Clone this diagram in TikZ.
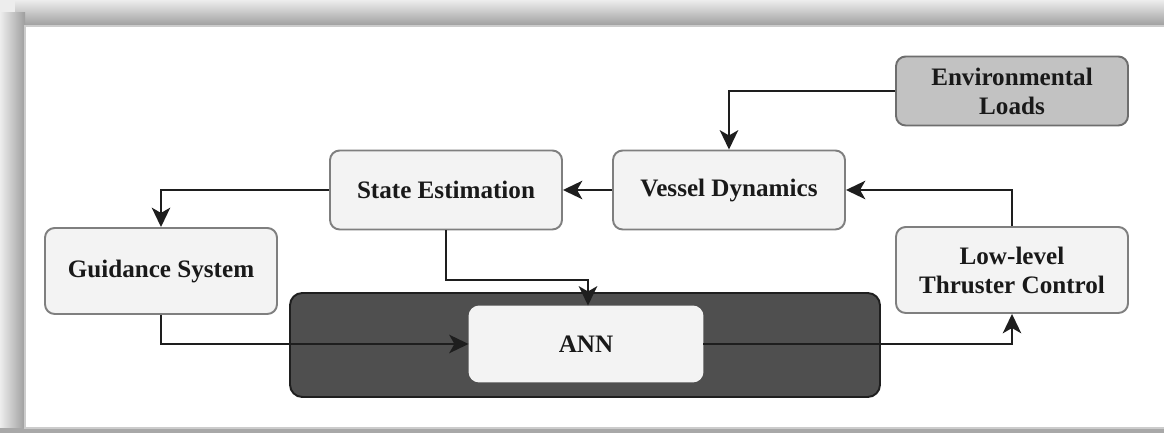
\documentclass[tikz,border=0pt]{standalone}
\usepackage{fontspec}
\setmainfont{Liberation Serif}
\usepackage{tikz}
\usetikzlibrary{arrows.meta}
\definecolor{boxfill}{HTML}{F3F3F3}
\definecolor{boxline}{HTML}{7F7F7F}
\definecolor{envfill}{HTML}{C2C2C2}
\definecolor{envline}{HTML}{6E6E6E}
\definecolor{annback}{HTML}{4F4F4F}
\definecolor{annline}{HTML}{1F1F1F}
\definecolor{wire}{HTML}{1E1E1E}
\definecolor{shlight}{HTML}{EDEDED}
\definecolor{shdark}{HTML}{9E9E9E}
\tikzset{
  block/.style={draw=boxline, fill=boxfill, line width=1.1pt, rounded corners=5.5pt,
    minimum width=4.64cm, minimum height=1.58cm, align=center, text=black!90,
    font=\fontsize{14.3}{16.5}\selectfont\bfseries},
  envblock/.style={block, fill=envfill, draw=envline, minimum height=1.38cm},
  wide/.style={block, minimum height=1.72cm},
  flow/.style={draw=wire, line width=1.3pt, -{Stealth[length=11pt,width=10.5pt,inset=3pt]}}
}
\begin{document}
\begin{tikzpicture}
    \useasboundingbox (0,0) rectangle (23.28,8.66);
    % frame and its shadow
    \fill[shlight] (0,0) rectangle (23.28,8.66);
    \shade[top color=shlight, bottom color=shdark] (0.3,8.14) rectangle (23.28,8.66);
    \shade[left color=shlight, right color=shdark] (0,0) rectangle (0.5,8.4);
    \fill[shdark!90] (0,0) rectangle (23.28,0.1);
    \draw[fill=white, draw=black!20, line width=0.6pt] (0.5,0.1) rectangle (23.4,8.14);
    % ANN container
    \draw[fill=annback, draw=annline, line width=1.1pt, rounded corners=7pt] (5.8,0.72) rectangle (17.6,2.8);
    \node[block, draw=boxfill, minimum width=4.66cm, minimum height=1.5cm] (ann) at (11.72,1.78) {ANN};
    % blocks
    \node[envblock] (env) at (20.24,6.84) {Environmental\\Loads};
    \node[block] (vessel) at (14.58,4.86) {Vessel Dynamics};
    \node[block] (state) at (8.92,4.86) {State Estimation};
    \node[wide] (guide) at (3.22,3.24) {Guidance System};
    \node[wide] (thrust) at (20.24,3.26) {Low-level\\Thruster Control};
    % connectors
    \draw[flow] (env.west) -| (vessel.north);
    \draw[flow] (vessel.west) -- (state.east);
    \draw[flow] (state.west) -| (guide.north);
    \draw[flow] (state.south) -- ++(0,-0.99) -| ([xshift=0.04cm]ann.north);
    \draw[flow] (guide.south) |- (ann.west);
    \draw[flow] (ann.east) -| (thrust.south);
    \draw[flow] (thrust.north) |- (vessel.east);
\end{tikzpicture}
\end{document}
